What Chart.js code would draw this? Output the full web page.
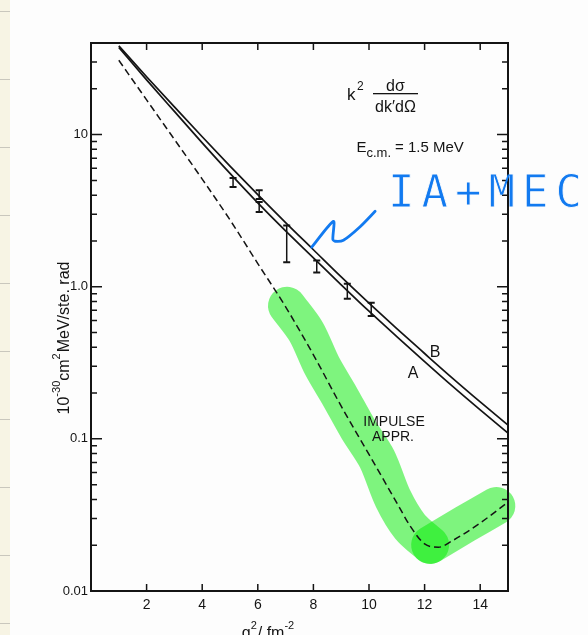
<!DOCTYPE html>
<html>
<head>
<meta charset="utf-8">
<script src="https://cdn.jsdelivr.net/npm/chart.js@4.4.1/dist/chart.umd.min.js"></script>
<style>
html,body{margin:0;padding:0;background:#fff;}
#wrap{position:relative;width:588px;height:635px;overflow:hidden;background:#fdfdfd;}
#strip{position:absolute;left:0;top:0;width:10px;height:635px;background-color:#f7f4e4;
 background-image:repeating-linear-gradient(to bottom, transparent 0px, transparent 11px, #c9c7bd 11px, #c9c7bd 12px, transparent 12px, transparent 68px);}
canvas{position:absolute;left:0;top:0;}
</style>
</head>
<body>
<div id="wrap"><div id="strip"></div><canvas id="c" width="588" height="635"></canvas></div>
<script>
// ---- data ----
const qSq      = [1, 2, 3, 4, 5, 6, 7, 8, 9, 10, 11, 12, 13, 14, 15];
const curveB   = [38.3, 24.0, 15.2, 9.68, 6.21, 4.03, 2.64, 1.75, 1.16, 0.78, 0.53, 0.364, 0.251, 0.175, 0.123];
const curveA   = [37.4, 22.9, 14.2, 8.83, 5.56, 3.56, 2.33, 1.55, 1.03, 0.69, 0.47, 0.322, 0.222, 0.155, 0.109];
const impulseQ = [1, 2, 3, 4, 5, 6, 7, 8, 9, 10, 11, 11.5, 12, 12.5, 13, 14, 15];
const impulseY = [30.8, 16.9, 9.3, 5.1, 2.75, 1.42, 0.738, 0.357, 0.164, 0.079, 0.038, 0.0264, 0.0204, 0.0194, 0.0214, 0.028, 0.0384];
const errQ     = [5.11, 6.05, 6.05, 7.04, 8.12, 9.22, 10.08];
const errHi    = [5.19, 4.30, 3.61, 2.53, 1.49, 1.047, 0.785];
const errLo    = [4.53, 3.77, 3.10, 1.45, 1.24, 0.834, 0.641];
// hand annotations (highlighter strokes and pointer), in data units
const highlightQ1 = [7.05, 7.74, 8.31, 8.96, 9.61, 10.29, 10.87, 11.48, 12.20];
const highlightY1 = [0.750, 0.506, 0.302, 0.189, 0.116, 0.0738, 0.0403, 0.0264, 0.0201];
const highlightQ2 = [12.20, 13.46, 14.58];
const highlightY2 = [0.0201, 0.0276, 0.0362];
const pointerQ = [7.94, 8.72, 8.70, 8.78, 9.08, 9.68, 10.22];
const pointerY = [1.82, 2.69, 2.05, 1.99, 2.02, 2.48, 3.13];
// axes
const xTicks = [2, 4, 6, 8, 10, 12, 14];
const yDecades = [0.01, 0.1, 1, 10];
const yDecadeLabels = ['0.01', '0.1', '1.0', '10'];
const yMin = 0.01, yMax = 40, xMin = 0, xMax = 15;

const yAllTicks = [];
yDecades.forEach(d => { for (let m = 1; m <= 9; m++) { const v = +(d * m).toPrecision(6); if (v < yMax) yAllTicks.push(v); } });

const pts = (xs, ys) => xs.map((x, i) => ({x: x, y: ys[i]}));
const INK = '#141414';
const BLUE = 'rgb(18,122,240)';
const GREEN = 'rgba(0,236,0,0.5)';
const FONT = '"Liberation Sans", Arial, sans-serif';

const errorBars = {
  id: 'errorBars',
  afterDatasetsDraw(chart) {
    const {ctx, scales: {x, y}} = chart;
    ctx.save();
    ctx.strokeStyle = INK; ctx.lineWidth = 1.5;
    errQ.forEach((q, i) => {
      const px = x.getPixelForValue(q), y1 = y.getPixelForValue(errHi[i]), y2 = y.getPixelForValue(errLo[i]);
      ctx.beginPath();
      ctx.moveTo(px, y1); ctx.lineTo(px, y2);
      ctx.stroke();
      ctx.lineWidth = 2;
      ctx.beginPath();
      ctx.moveTo(px - 3.5, y1); ctx.lineTo(px + 3.5, y1);
      ctx.moveTo(px - 3.5, y2); ctx.lineTo(px + 3.5, y2);
      ctx.stroke();
      ctx.lineWidth = 1.5;
    });
    ctx.restore();
  }
};

const frame = {
  id: 'frame',
  afterDatasetsDraw(chart) {
    const {ctx, chartArea: ca, scales: {x, y}} = chart;
    ctx.save();
    ctx.strokeStyle = INK;
    ctx.lineWidth = 2;
    ctx.strokeRect(ca.left, ca.top, ca.right - ca.left, ca.bottom - ca.top);
    ctx.lineWidth = 1.5;
    ctx.beginPath();
    xTicks.forEach(v => {
      const px = x.getPixelForValue(v);
      ctx.moveTo(px, ca.bottom); ctx.lineTo(px, ca.bottom - 7);
      ctx.moveTo(px, ca.top); ctx.lineTo(px, ca.top + 7);
    });
    yAllTicks.forEach(v => {
      const py = y.getPixelForValue(v);
      const len = yDecades.some(d => Math.abs(d - v) / d < 1e-6) ? 11 : 6;
      ctx.moveTo(ca.left, py); ctx.lineTo(ca.left + len, py);
      ctx.moveTo(ca.right, py); ctx.lineTo(ca.right - len, py);
    });
    ctx.stroke();
    ctx.restore();
  }
};

function drawParts(ctx, parts, startX, baseY) {
  let cx = startX;
  parts.forEach(p => {
    ctx.font = p.f;
    ctx.fillText(p.t, cx, baseY + (p.dy || 0));
    cx += ctx.measureText(p.t).width + (p.gap || 0);
  });
}
function partsWidth(ctx, parts) {
  let w = 0;
  parts.forEach(p => { ctx.font = p.f; w += ctx.measureText(p.t).width + (p.gap || 0); });
  return w;
}

const texts = {
  id: 'texts',
  afterDraw(chart) {
    const {ctx, chartArea: ca} = chart;
    const L = ca.left, T = ca.top;
    ctx.save();
    ctx.fillStyle = INK;
    ctx.textAlign = 'left'; ctx.textBaseline = 'alphabetic';
    // k^2 dσ / dk'dΩ
    ctx.font = '17px ' + FONT; ctx.fillText('k', L + 256, T + 57);
    ctx.font = '12px ' + FONT; ctx.fillText('2', L + 266, T + 47);
    ctx.textAlign = 'center';
    ctx.font = '16px ' + FONT; ctx.fillText('dσ', L + 304.5, T + 48);
    ctx.fillRect(L + 282, T + 50, 45, 1.3);
    ctx.fillText('dk′dΩ', L + 304.5, T + 68.5);
    // E c.m. = 1.5 MeV
    ctx.textAlign = 'left';
    ctx.font = '15px ' + FONT; ctx.fillText('E', L + 265.5, T + 109);
    ctx.font = '13px ' + FONT; ctx.fillText('c.m.', L + 275.5, T + 114);
    ctx.font = '15px ' + FONT; ctx.fillText('= 1.5 MeV', L + 304, T + 109);
    // curve labels
    ctx.textAlign = 'center'; ctx.textBaseline = 'middle';
    ctx.font = '16px ' + FONT;
    ctx.fillText('B', L + 344, T + 309.5);
    ctx.fillText('A', L + 322, T + 330.5);
    ctx.font = '14px ' + FONT;
    ctx.fillText('IMPULSE', L + 303, T + 379.5);
    ctx.fillText('APPR.', L + 302, T + 394.5);
    // axis titles
    ctx.textAlign = 'left'; ctx.textBaseline = 'alphabetic';
    const m = '16px ' + FONT, s = '11px ' + FONT;
    const xp = [{t: 'q', f: m}, {t: '2', f: s, dy: -9, gap: 1}, {t: '/ fm', f: m}, {t: '-2', f: s, dy: -9}];
    const xw = partsWidth(ctx, xp);
    drawParts(ctx, xp, L + 177 - xw / 2, ca.bottom + 47);
    const yp = [{t: '10', f: m}, {t: '-30', f: s, dy: -9}, {t: 'cm', f: m}, {t: '2', f: s, dy: -9, gap: 1}, {t: 'MeV/ste. rad', f: m}];
    const yw = partsWidth(ctx, yp);
    ctx.save();
    ctx.translate(L - 22, (ca.top + ca.bottom) / 2 + 21);
    ctx.rotate(-Math.PI / 2);
    drawParts(ctx, yp, -yw / 2, 0);
    ctx.restore();
    ctx.restore();

    // handwritten note: blue letters (drawn on a layer, then eroded slightly)
    const layer = document.createElement('canvas');
    layer.width = chart.width; layer.height = chart.height;
    const lc = layer.getContext('2d');
    lc.font = '44px "DejaVu Sans Mono", monospace';
    lc.letterSpacing = '7px';
    lc.fillStyle = BLUE;
    lc.fillText('IA+MEC', L + 297, T + 164);
    lc.globalCompositeOperation = 'destination-out';
    lc.lineWidth = 0.9;
    lc.strokeStyle = '#000';
    lc.strokeText('IA+MEC', L + 297, T + 164);
    ctx.drawImage(layer, 0, 0);
  }
};

new Chart(document.getElementById('c'), {
  type: 'scatter',
  data: {
    datasets: [
      {label: 'pointer', data: pts(pointerQ, pointerY), showLine: true, borderColor: BLUE, borderWidth: 2.8,
       pointRadius: 0, tension: 0.25, borderCapStyle: 'round', borderJoinStyle: 'round', order: 0, clip: false},
      {label: 'B', data: pts(qSq, curveB), showLine: true, borderColor: INK, borderWidth: 1.7,
       pointRadius: 0, cubicInterpolationMode: 'monotone', order: 1},
      {label: 'A', data: pts(qSq, curveA), showLine: true, borderColor: INK, borderWidth: 1.7,
       pointRadius: 0, cubicInterpolationMode: 'monotone', order: 1},
      {label: 'Impulse appr.', data: pts(impulseQ, impulseY), showLine: true, borderColor: INK, borderWidth: 1.5,
       borderDash: [7, 4], pointRadius: 0, cubicInterpolationMode: 'monotone', order: 1},
      {label: 'highlight 1', data: pts(highlightQ1, highlightY1), showLine: true, borderColor: GREEN, borderWidth: 38,
       pointRadius: 0, tension: 0.3, borderCapStyle: 'round', borderJoinStyle: 'round', order: 10, clip: false},
      {label: 'highlight 2', data: pts(highlightQ2, highlightY2), showLine: true, borderColor: GREEN, borderWidth: 38,
       pointRadius: 0, tension: 0.3, borderCapStyle: 'round', borderJoinStyle: 'round', order: 11, clip: false}
    ]
  },
  options: {
    responsive: false,
    animation: false,
    devicePixelRatio: 1,
    layout: {padding: {left: 0, right: 80, top: 43, bottom: 0}},
    plugins: {legend: {display: false}, tooltip: {enabled: false}},
    scales: {
      x: {
        type: 'linear', min: xMin, max: xMax, position: 'bottom',
        grid: {display: false, drawTicks: false}, border: {display: false},
        ticks: {font: {size: 14, family: FONT}, color: INK, padding: 6, maxRotation: 0, autoSkip: false},
        afterBuildTicks: s => { s.ticks = xTicks.map(v => ({value: v})); },
        afterFit: s => { s.height = 44; }
      },
      y: {
        type: 'logarithmic', min: yMin, max: yMax, position: 'left',
        grid: {display: false, drawTicks: false}, border: {display: false},
        ticks: {
          font: {size: 13, family: FONT}, color: INK, padding: 3, autoSkip: false,
          callback: v => { const i = yDecades.findIndex(d => Math.abs(d - v) / d < 1e-6); return i >= 0 ? yDecadeLabels[i] : ''; }
        },
        afterBuildTicks: s => { s.ticks = yAllTicks.map(v => ({value: v})); },
        afterFit: s => { s.width = 91; }
      }
    }
  },
  plugins: [errorBars, frame, texts]
});
</script>
</body>
</html>
